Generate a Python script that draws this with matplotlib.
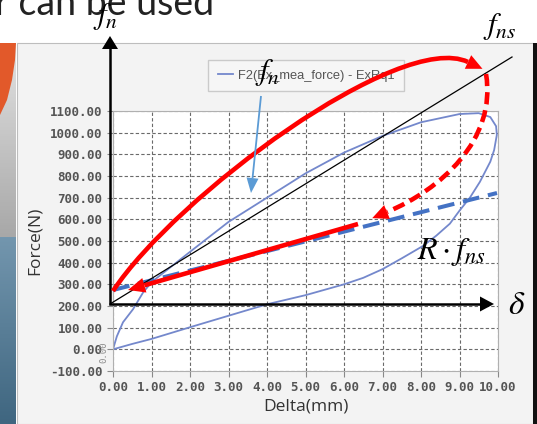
import matplotlib
matplotlib.use("Agg")
import matplotlib.pyplot as plt
import numpy as np
from matplotlib.path import Path
from matplotlib.patches import PathPatch, Polygon, Rectangle
from matplotlib.colors import LinearSegmentedColormap
from matplotlib.ticker import FormatStrFormatter

plt.rcParams['mathtext.fontset'] = 'stix'

# hysteresis loop (Delta in mm, Force in N)
load_delta = [0, 0.1, 0.26, 0.52, 0.78, 1.0, 1.5, 2.0, 3.0, 4.0, 5.0, 6.0, 7.0, 8.0, 9.0, 9.5, 9.8, 9.95, 9.97]
load_force = [0, 60, 125, 185, 262, 310, 380, 450, 588, 700, 812, 908, 985, 1048, 1086, 1090, 1072, 1030, 990]
unload_delta = [9.9, 9.8, 9.53, 9.27, 9.0, 8.75, 8.4, 8.05, 7.5, 7.0, 6.5, 6.0, 5.0, 4.0, 3.0, 2.0, 1.0, 0.5, 0]
unload_force = [920, 866, 773, 700, 640, 580, 525, 477, 420, 370, 330, 300, 250, 208, 155, 102, 48, 25, 0]
series_name = "F2(Ex_mea_force) - ExRq1"
x_ticks = list(range(0, 11))
y_ticks = list(range(-100, 1101, 100))

W, H = 537, 424
fig = plt.figure(figsize=(W / 100, H / 100), dpi=100)
fig.patch.set_facecolor('white')

# slide background (pixel coordinates)
bg = fig.add_axes([0, 0, 1, 1])
bg.axis('off')
bg.add_patch(Rectangle((17, 43), 516, H - 43, facecolor='#f3f3f3', edgecolor='#bdbdbd', lw=0.8))
grad = np.linspace(0, 1, 100).reshape(-1, 1)
bg.imshow(grad, extent=(0, 16, 237, 43), aspect='auto',
          cmap=LinearSegmentedColormap.from_list('g', ['#e2e2e2', '#a8a8a8']))
bg.imshow(grad, extent=(0, 16, H, 237), aspect='auto',
          cmap=LinearSegmentedColormap.from_list('b', ['#7396ae', '#3f6680']))
bg.add_patch(Polygon([(0, 43), (16, 43), (15, 60), (12, 80), (7, 100), (0, 115)], color='#e2592a', lw=0))
bg.add_patch(Rectangle((533, 43), 4, H - 43, color='#111111', lw=0))
bg.set_xlim(0, W)
bg.set_ylim(H, 0)

# the chart itself
ax = fig.add_axes([113 / W, 1 - 371 / H, 385 / W, 260 / H])
ax.set_facecolor('white')
ax.plot(load_delta + unload_delta, load_force + unload_force, color='#7488cc', lw=1.3, label=series_name)
ax.set_xlim(0, 10)
ax.set_ylim(-100, 1100)
ax.set_xticks(x_ticks)
ax.set_yticks(y_ticks)
ax.xaxis.set_major_formatter(FormatStrFormatter('%.2f'))
ax.yaxis.set_major_formatter(FormatStrFormatter('%.2f'))
ax.grid(True, color='#6a6a6a', lw=0.8, ls=(0, (3, 2)))
for s in ax.spines.values():
    s.set_color('#b0b0b0')
ax.tick_params(length=4, color='#888888', labelsize=9, labelcolor='#555555', pad=3.5)
for lab in ax.get_xticklabels() + ax.get_yticklabels():
    lab.set_fontfamily('DejaVu Sans Mono')
    lab.set_fontweight('bold')
ax.set_xlabel('Delta(mm)', fontsize=12.5, family='Open Sans', color='#333333')
ax.set_ylabel('Force(N)', fontsize=12.5, family='Open Sans', color='#333333')
ax.xaxis.set_label_coords(0.5, -0.105)
ax.yaxis.set_label_coords(-0.182, 0.5)

leg = ax.legend(loc='upper left', bbox_to_anchor=(208 / W, 1 - 60 / H), bbox_transform=fig.transFigure,
                frameon=True, fancybox=False, borderpad=0.75, handlelength=1.15, handletextpad=0.4,
                borderaxespad=0, prop={'family': 'Liberation Sans', 'size': 9.3})
leg.get_frame().set_edgecolor('#c0c0c0')
leg.get_frame().set_facecolor('#f7f7f7')
leg.get_frame().set_linewidth(1)
for t in leg.get_texts():
    t.set_color('#555555')

# hand drawn annotations on top (pixel coordinates)
ov = fig.add_axes([0, 0, 1, 1])
ov.set_xlim(0, W)
ov.set_ylim(H, 0)
ov.axis('off')


def head(base, direction, length, width, color):
    d = np.array(direction, float)
    d /= np.hypot(*d)
    n = np.array([-d[1], d[0]])
    b = np.array(base, float)
    tip = b + d * length
    ov.add_patch(Polygon([tip, b + n * width / 2, b - n * width / 2], closed=True, color=color, lw=0, zorder=6))


def arrow_line(start, tip, length, width, color, lw, z=4):
    s = np.array(start, float)
    t = np.array(tip, float)
    d = (t - s) / np.hypot(*(t - s))
    b = t - d * length
    ov.plot([s[0], b[0]], [s[1], b[1]], color=color, lw=lw, solid_capstyle='butt', zorder=z)
    head(b, d, length, width, color)


def curve(p0, p1, p2, p3, color, lw, ls='-', z=5):
    path = Path([p0, p1, p2, p3], [Path.MOVETO, Path.CURVE4, Path.CURVE4, Path.CURVE4])
    ov.add_patch(PathPatch(path, facecolor='none', edgecolor=color, lw=lw, ls=ls, capstyle='butt', zorder=z))
    head(p3, np.subtract(p3, p2), 16, 15, color)


# R * f_ns line
ov.plot([113, 497], [290, 193], color='#4472c4', lw=2.9, ls=(0, (4.2, 2.2)), zorder=3)
# secant f_ns
ov.plot([110, 512], [304, 57], color='black', lw=0.9, zorder=3)
# coordinate axes
ov.plot([110, 110, 480], [49, 304, 304], color='black', lw=1.8, solid_joinstyle='miter', zorder=4)
head((110, 49), (0, -1), 13, 16, 'black')
head((480, 304), (1, 0), 14, 15, 'black')
# red arrows
arrow_line((358, 224), (128, 290), 17, 15, 'red', 3.3)
curve((113, 291), (175, 197), (400, 30), (468, 62), 'red', 3.3)
curve((486, 74), (497, 140), (440, 190), (387, 212), 'red', 3.3, ls=(0, (2.65, 1.33)))
# thin blue arrow pointing at the curve
arrow_line((261, 96), (251, 193), 15, 12, '#5b9bd5', 1.3, z=6)

ov.text(106, 17, r'$f_n$', fontsize=22, ha='center', va='center', zorder=7)
ov.text(268, 72, r'$f_n$', fontsize=22, ha='center', va='center', zorder=7)
ov.text(500, 27, r'$f_{ns}$', fontsize=22, ha='center', va='center', zorder=7)
ov.text(451, 252, r'$R\cdot f_{ns}$', fontsize=23, ha='center', va='center', zorder=7)
ov.text(517, 305, r'$\delta$', fontsize=24, ha='center', va='center', zorder=7)
ov.text(104, 352, '0.00', fontsize=6.5, rotation=90, ha='center', va='center',
        family='DejaVu Sans Mono', color='#8a8a8a', zorder=2)
ov.text(214, 15, 'r can be used', fontsize=27, family='Lato', color='#222222',
        ha='right', va='baseline')

fig.savefig('out.png', dpi=100)
